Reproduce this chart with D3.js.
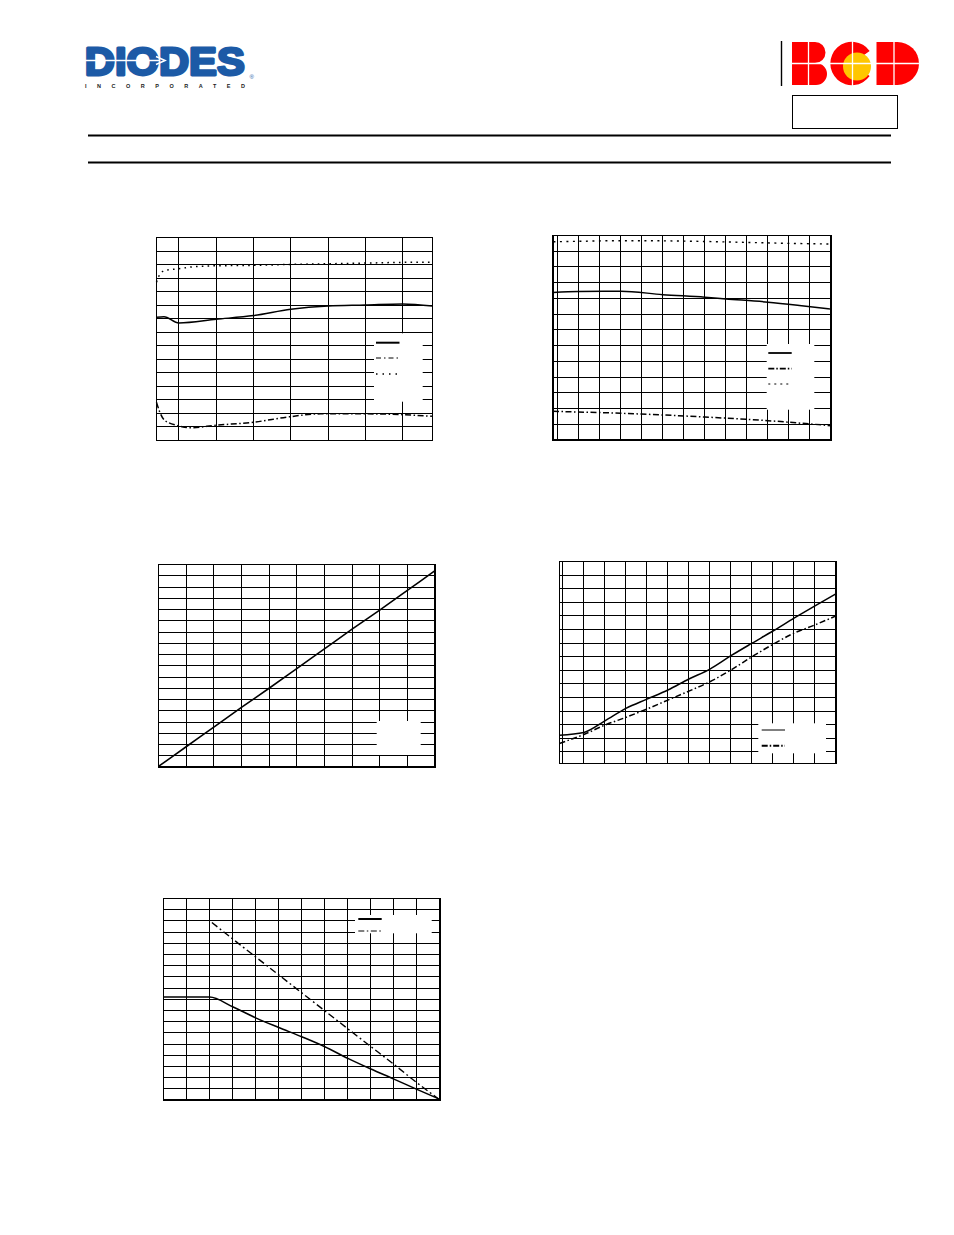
<!DOCTYPE html>
<html>
<head>
<meta charset="utf-8">
<script src="https://cdn.jsdelivr.net/npm/d3@7"></script>
<style>
  html, body { margin: 0; padding: 0; background: #fff; }
  svg { display: block; }
</style>
</head>
<body>
<svg id="page" width="954" height="1235"></svg>
<script>
// ---------------- DATA ----------------
// Chart 1 (top left)
const c1X_dot = [-40, -37, -33, -27, -15, 0, 25, 50, 75, 100, 125, 145];
const c1Y_dot = [11.7, 12.4, 12.6, 12.67, 12.84, 12.91, 12.94, 13.01, 13.06, 13.11, 13.16, 13.18];
const c1X_solid = [-40, -35, -25, 0, 25, 50, 75, 100, 125, 145];
const c1Y_solid = [9.11, 9.15, 8.69, 8.96, 9.23, 9.70, 9.94, 10.01, 10.09, 9.94];
const c1X_dashdot = [-40, -38, -34.5, -25.5, -17.7, 0, 25, 49, 70, 100, 125, 145];
const c1Y_dashdot = [2.82, 2.16, 1.49, 1.10, 0.94, 1.13, 1.35, 1.75, 1.97, 1.97, 1.91, 1.79];
const c1XGrid = [-25, 0, 25, 50, 75, 100, 125];
const c1YGrid = [1, 2, 3, 4, 5, 6, 7, 8, 9, 10, 11, 12, 13, 14];

// Chart 2 (top right)
const c2X_dot = [2.8, 4, 6, 8, 10, 12, 14, 16];
const c2Y_dot = [12.6, 12.63, 12.67, 12.66, 12.62, 12.56, 12.5, 12.46];
const c2X_solid = [2.78, 4, 6, 8, 10, 11, 13, 14.5, 16];
const c2Y_solid = [9.38, 9.44, 9.46, 9.24, 9.08, 8.97, 8.76, 8.55, 8.32];
const c2X_dashdot = [2.78, 6, 10, 13, 15, 16];
const c2Y_dashdot = [1.82, 1.70, 1.46, 1.23, 1.02, 0.91];
const c2XGrid = [3, 4, 5, 6, 7, 8, 9, 10, 11, 12, 13, 14, 15];
const c2YGrid = [1, 2, 3, 4, 5, 6, 7, 8, 9, 10, 11, 12];

// Chart 3 (middle left)
const c3X = [0, 1, 2, 3, 4, 5, 6, 7, 8, 9, 10];
const c3Y = [0.05, 1.8, 3.55, 5.3, 7.0, 8.75, 10.5, 12.25, 13.95, 15.7, 17.45];
const c3XGrid = [1, 2, 3, 4, 5, 6, 7, 8, 9];
const c3YGrid = [1, 2, 3, 4, 5, 6, 7, 8, 9, 10, 11, 12, 13, 14, 15, 16, 17];

// Chart 4 (middle right)
const c4X = [2.84, 4, 5, 6, 7, 8, 9, 10, 11, 12, 13, 14, 15, 16];
const c4Y_solid = [1.23, 1.43, 2.28, 3.20, 3.88, 4.55, 5.36, 6.09, 7.07, 7.99, 8.89, 9.83, 10.74, 11.62];
const c4Y_dashdot = [0.62, 1.28, 1.97, 2.54, 3.15, 3.81, 4.47, 5.16, 6.02, 7.0, 7.91, 8.73, 9.34, 10.0];
const c4XGrid = [3, 4, 5, 6, 7, 8, 9, 10, 11, 12, 13, 14, 15];
const c4YGrid = [0, 1, 2, 3, 4, 5, 6, 7, 8, 9, 10, 11, 12, 13];

// Chart 5 (bottom left)
const c5X_solid = [0, 2, 3, 4, 5, 6, 7, 8, 9, 10, 11, 12];
const c5Y_solid = [9.19, 9.19, 8.33, 7.34, 6.48, 5.65, 4.76, 3.72, 2.77, 1.87, 0.95, 0.06];
const c5X_dashdot = [2.1, 3, 4, 5, 6, 7, 8, 9, 10, 11, 11.9];
const c5Y_dashdot = [15.85, 14.39, 12.78, 11.18, 9.57, 7.97, 6.36, 4.77, 3.18, 1.54, 0.15];
const c5XGrid = [1, 2, 3, 4, 5, 6, 7, 8, 9, 10, 11];
const c5YGrid = [1, 2, 3, 4, 5, 6, 7, 8, 9, 10, 11, 12, 13, 14, 15, 16, 17];

// ---------------- STYLES ----------------
const SOLID = null, DASHDOT = "6,2.5,1.5,2.5", DOT = "1.6,4.2", DASHDOT_LONG = "7,3,1.8,3";

const zip = (xs, ys) => xs.map((x, i) => [x, ys[i]]);

const charts = [
  { box: [156.5, 432.5, 237.5, 440.5], xd: [-40, 145], yd: [0, 15], xg: c1XGrid, yg: c1YGrid,
    series: [
      { d: zip(c1X_dot, c1Y_dot), dash: DOT, w: 1.5 },
      { d: zip(c1X_solid, c1Y_solid), dash: SOLID, w: 1.5 },
      { d: zip(c1X_dashdot, c1Y_dashdot), dash: DASHDOT, w: 1.5 }
    ],
    legend: { x0: 374, x1: 422.7, y0: 333.3, y1: 401.7, lx0: 376, lx1: 399.5,
      items: [{ y: 342.7, dash: SOLID, w: 2 }, { y: 358, dash: "5,3,1.5,3", w: 1 }, { y: 374, dash: "1.5,5", w: 1.5 }] } },
  { box: [553, 831, 235.5, 440], xd: [2.78, 16], yd: [0, 13], xg: c2XGrid, yg: c2YGrid,
    series: [
      { d: zip(c2X_dot, c2Y_dot), dash: "2,4.5", w: 1.4 },
      { d: zip(c2X_solid, c2Y_solid), dash: SOLID, w: 1.5 },
      { d: zip(c2X_dashdot, c2Y_dashdot), dash: DASHDOT, w: 1.5 }
    ],
    legend: { x0: 766.7, x1: 814.3, y0: 344, y1: 409.7, lx0: 768.3, lx1: 791.7,
      items: [{ y: 353, dash: SOLID, w: 1.8 }, { y: 368.7, dash: "6,2,1.5,2", w: 1.8 }, { y: 384, dash: "2,4", w: 1 }] } },
  { box: [158.5, 435, 564.5, 767], xd: [0, 10], yd: [0, 18], xg: c3XGrid, yg: c3YGrid,
    series: [ { d: zip(c3X, c3Y), dash: SOLID, w: 1.6 } ],
    legend: { x0: 376.7, x1: 420.7, y0: 721, y1: 755, items: [] } },
  { box: [559.5, 836, 561.5, 763.5], xd: [2.84, 16], yd: [-0.855, 14], xg: c4XGrid, yg: c4YGrid,
    series: [
      { d: zip(c4X, c4Y_solid), dash: SOLID, w: 1.5 },
      { d: zip(c4X, c4Y_dashdot), dash: DASHDOT, w: 1.5 }
    ],
    legend: { x0: 758.3, x1: 826, y0: 723.3, y1: 753.3, lx0: 761.7, lx1: 785,
      items: [{ y: 730, dash: SOLID, w: 1 }, { y: 745.7, dash: "6,2,1.5,2", w: 2 }] } },
  { box: [163.5, 440, 898.5, 1100], xd: [0, 12], yd: [0, 18], xg: c5XGrid, yg: c5YGrid,
    series: [
      { d: zip(c5X_solid, c5Y_solid), dash: SOLID, w: 1.5 },
      { d: zip(c5X_dashdot, c5Y_dashdot), dash: DASHDOT_LONG, w: 1.4 }
    ],
    legend: { x0: 355, x1: 431.7, y0: 915, y1: 933.3, lx0: 358.3, lx1: 381.7,
      items: [{ y: 919, dash: SOLID, w: 2 }, { y: 931, dash: "6,2.5,1.5,2.5", w: 1 }] } }
];

const svg = d3.select("#page");

// ---------------- HEADER ----------------
const hdr = svg.append("g");
// DIODES logo
hdr.append("text").attr("x", 84.8).attr("y", 74.8)
  .attr("font-family", "Liberation Sans, Arial, sans-serif").attr("font-weight", 700)
  .attr("font-size", 39.5).attr("fill", "#1c5aa6").attr("stroke", "#1c5aa6").attr("stroke-width", 2.8)
  .attr("stroke-linejoin", "round")
  .attr("textLength", 160).attr("lengthAdjust", "spacingAndGlyphs").text("DIODES");
hdr.append("line").attr("x1", 84).attr("x2", 160).attr("y1", 60.5).attr("y2", 60.5)
  .attr("stroke", "#fff").attr("stroke-width", 1.6);
hdr.append("path").attr("d", "M156,56.5 L165,60.5 L156,64.5").attr("fill", "none")
  .attr("stroke", "#fff").attr("stroke-width", 1.6);
hdr.append("text").attr("x", 249.5).attr("y", 78.5).attr("font-family", "Liberation Sans, Arial, sans-serif")
  .attr("font-size", 6).attr("fill", "#1c5aa6").text("®");
hdr.append("text").attr("x", 85).attr("y", 88.3).attr("font-family", "Liberation Sans, Arial, sans-serif")
  .attr("font-weight", 700).attr("font-size", 5.5).attr("fill", "#222")
  .attr("textLength", 160).attr("lengthAdjust", "spacing").text("INCORPORATED");

// BCD logo
hdr.append("line").attr("x1", 781.5).attr("x2", 781.5).attr("y1", 41).attr("y2", 86)
  .attr("stroke", "#000").attr("stroke-width", 1.4);
const red = "#ff0000";
hdr.append("path").attr("d", "M792,42 H815 A10.5,10.5 0 0 1 815,63 H816 A11,11 0 0 1 816,85 H792 Z").attr("fill", red);
const cArc = d3.arc().innerRadius(0).outerRadius(21.7)
  .startAngle(Math.PI / 2 + 0.62).endAngle(Math.PI * 2.5 - 0.62);
hdr.append("path").attr("transform", "translate(852,63.5)").attr("d", cArc()).attr("fill", red);
hdr.append("circle").attr("cx", 857).attr("cy", 66.5).attr("r", 14).attr("fill", "#ffc600");
hdr.append("path").attr("d", "M876.5,42 H897.5 A21.5,21.5 0 0 1 897.5,85 H876.5 Z").attr("fill", red);
// white divisions
[808.5, 852.5, 894].forEach(x => hdr.append("line").attr("x1", x).attr("x2", x).attr("y1", 40).attr("y2", 87)
  .attr("stroke", "#fff").attr("stroke-width", 1.3));
hdr.append("line").attr("x1", 790).attr("x2", 921).attr("y1", 63.5).attr("y2", 63.5)
  .attr("stroke", "#fff").attr("stroke-width", 1.3);
// empty box
hdr.append("rect").attr("x", 792.5).attr("y", 95.5).attr("width", 105).attr("height", 33)
  .attr("fill", "none").attr("stroke", "#000").attr("stroke-width", 1);
// rules
[135.5, 162.5].forEach(y => hdr.append("line").attr("x1", 88).attr("x2", 891).attr("y1", y).attr("y2", y)
  .attr("stroke", "#000").attr("stroke-width", 2));

// ---------------- CHARTS ----------------
charts.forEach(c => {
  const [L, R, T, B] = c.box;
  const x = d3.scaleLinear().domain(c.xd).range([L, R]);
  const y = d3.scaleLinear().domain(c.yd).range([B, T]);
  const g = svg.append("g");

  g.append("g").selectAll("line").data(c.xg).join("line")
    .attr("x1", d => x(d)).attr("x2", d => x(d)).attr("y1", T).attr("y2", B)
    .attr("stroke", "#000").attr("stroke-width", 1).attr("shape-rendering", "crispEdges");
  g.append("g").selectAll("line").data(c.yg).join("line")
    .attr("x1", L).attr("x2", R).attr("y1", d => y(d)).attr("y2", d => y(d))
    .attr("stroke", "#000").attr("stroke-width", 1).attr("shape-rendering", "crispEdges");
  g.append("rect").attr("x", L).attr("y", T).attr("width", R - L).attr("height", B - T)
    .attr("fill", "none").attr("stroke", "#000").attr("stroke-width", 1.2).attr("shape-rendering", "crispEdges");

  // legend box
  const lg = c.legend;
  g.append("rect").attr("x", lg.x0).attr("y", lg.y0).attr("width", lg.x1 - lg.x0).attr("height", lg.y1 - lg.y0)
    .attr("fill", "#fff");
  g.append("g").selectAll("line").data(lg.items).join("line")
    .attr("x1", lg.lx0).attr("x2", lg.lx1).attr("y1", d => d.y).attr("y2", d => d.y)
    .attr("stroke", "#000").attr("stroke-width", d => d.w).attr("stroke-dasharray", d => d.dash);

  const line = d3.line().x(d => x(d[0])).y(d => y(d[1])).curve(d3.curveMonotoneX);
  g.append("g").selectAll("path").data(c.series).join("path")
    .attr("d", d => line(d.d)).attr("fill", "none").attr("stroke", "#000")
    .attr("stroke-width", d => d.w).attr("stroke-dasharray", d => d.dash);
});
</script>
</body>
</html>
